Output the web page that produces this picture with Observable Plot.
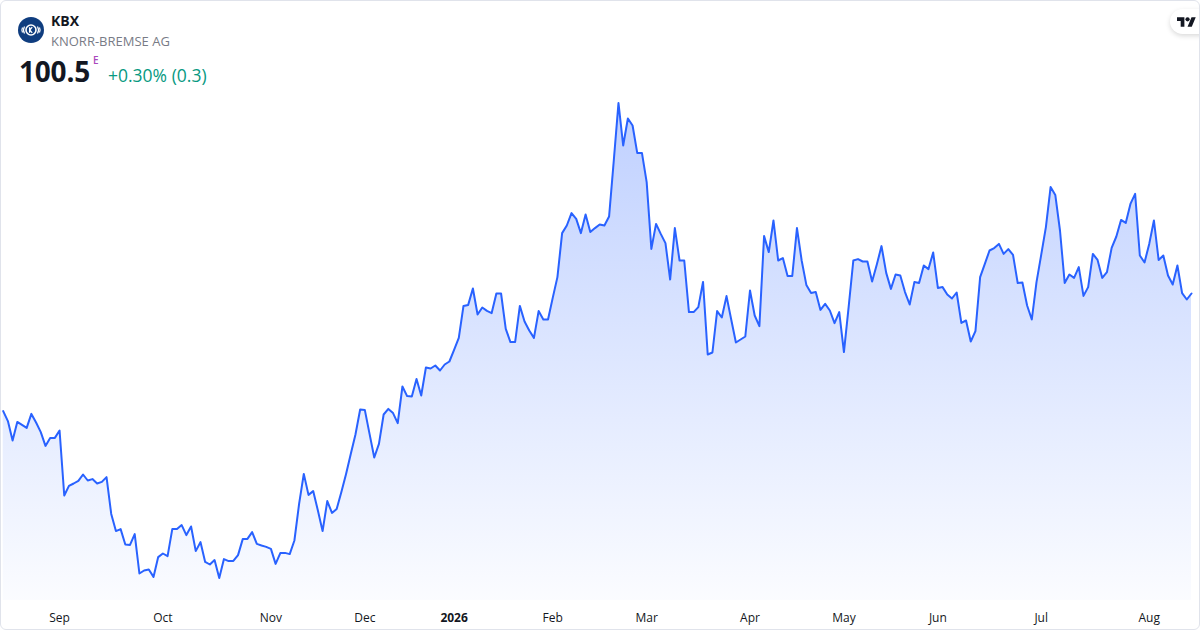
<!DOCTYPE html>
<html><head><meta charset="utf-8">
<script src="https://cdn.jsdelivr.net/npm/d3@7"></script>
<script src="https://cdn.jsdelivr.net/npm/@observablehq/plot@0.6"></script>
<style>
body{margin:0;background:#fff;font-family:"Open Sans",sans-serif;}
#wrap{position:relative;width:1200px;height:630px;overflow:hidden;background:#fff;}
#chart{position:absolute;left:0;top:0;}
#border{position:absolute;left:0;top:0;width:1200px;height:630px;border:1px solid #e0e3eb;border-radius:6px;box-sizing:border-box;pointer-events:none;}
.t{position:absolute;white-space:nowrap;line-height:1;}
#sym{left:51px;top:13.6px;font-size:14px;font-weight:700;color:#131722;}
#name{left:51px;top:34.5px;font-size:13px;color:#787b86;letter-spacing:0px;}
#price{left:19px;top:57px;font-size:28px;font-weight:700;color:#131722;letter-spacing:-0.2px;}
#e{left:93px;top:55px;font-size:10px;font-weight:600;color:#ab47bc;}
#chg{left:108px;top:66.5px;font-size:17.5px;color:#089981;}
#logo{position:absolute;left:18px;top:17px;}
#tv{position:absolute;left:1170px;top:9px;width:44px;height:25px;border-radius:13px;background:#fff;box-shadow:0 2px 5px rgba(0,0,0,0.15);}
#tv svg{position:absolute;left:7px;top:6px;}
</style></head>
<body>
<div id="wrap">
  <div id="chart"></div>
  <svg id="logo" width="26" height="26" viewBox="0 0 26 26">
    <circle cx="13" cy="13" r="13" fill="#0f3d7f"/>
    <circle cx="13" cy="13" r="5" fill="none" stroke="#fff" stroke-width="1.6"/>
    <path d="M11.6 10.2v5.6M11.8 13l2.4-2.8M11.8 13l2.4 2.8" stroke="#fff" stroke-width="1.3" fill="none"/>
    <path d="M6.5 9.5q-2 3.5 0 7M4.5 10.5q-1.2 2.5 0 5M19.5 9.5q2 3.5 0 7M21.5 10.5q1.2 2.5 0 5" stroke="#fff" stroke-width="1.2" fill="none"/>
  </svg>
  <div class="t" id="sym">KBX</div>
  <div class="t" id="name">KNORR-BREMSE AG</div>
  <div class="t" id="price">100.5</div>
  <div class="t" id="e">E</div>
  <div class="t" id="chg">+0.30% (0.3)</div>
  <div id="tv"><svg width="19" height="15" viewBox="0 0 36 28"><path d="M14 22H7V11H0V4h14v18zM28 22h-8l7.5-18h8L28 22z" fill="#131722"/><circle cx="20" cy="8" r="4" fill="#131722"/></svg></div>
  <div id="border"></div>
</div>
<script>
// Daily closes, one per trading day (mid-Aug 2025 .. mid-Aug 2026)
const prices = [
94.62,94.12,93.15,94.08,93.93,93.78,94.48,94.05,93.57,92.88,
93.27,93.28,93.65,90.40,90.88,91.00,91.13,91.45,91.15,91.22,
91.00,91.08,91.32,89.48,88.62,88.72,87.95,87.93,88.47,86.50,
86.65,86.70,86.33,87.32,87.50,87.37,88.72,88.72,88.92,88.42,
88.85,87.62,88.07,87.08,86.95,87.17,86.27,87.22,87.12,87.13,
87.42,88.22,88.23,88.57,87.98,87.90,87.83,87.73,86.98,87.52,
87.53,87.47,88.15,89.98,91.48,90.43,90.62,89.65,88.62,90.12,
89.53,89.73,90.57,91.48,92.48,93.45,94.70,94.67,93.48,92.30,
92.98,94.45,94.73,94.52,94.02,95.85,95.37,95.35,96.23,95.40,
96.80,96.75,96.90,96.65,96.95,97.10,97.68,98.28,99.88,99.93,
100.75,99.45,99.80,99.63,99.52,100.50,100.50,98.73,98.07,98.08,
99.88,99.10,98.65,98.28,99.62,99.20,99.20,100.28,101.32,103.52,
103.90,104.52,104.23,103.52,104.45,103.57,103.77,103.95,103.90,104.35,
107.15,110.02,107.90,109.25,108.90,107.52,107.52,106.07,102.73,103.98,
103.48,103.02,101.20,103.77,102.15,102.15,99.57,99.57,99.82,101.08,
97.45,97.55,99.62,99.30,100.37,99.20,98.05,98.20,98.35,100.65,
99.40,98.87,103.37,102.57,104.15,102.15,102.27,101.38,101.38,103.77,
102.15,100.93,100.53,100.57,99.68,99.98,99.65,99.02,99.57,97.57,
99.82,102.15,102.22,102.10,102.10,101.10,101.95,102.87,101.53,100.73,
101.45,101.40,100.57,99.95,101.07,101.02,101.90,101.72,102.55,100.78,
100.82,100.45,100.25,100.55,99.03,99.15,98.10,98.62,101.32,101.98,
102.65,102.77,102.98,102.48,102.72,102.43,101.02,101.05,99.90,99.20,
101.07,102.43,103.82,105.82,105.43,103.65,101.03,101.45,101.28,101.82,
100.38,100.82,102.48,102.18,101.28,101.57,102.78,103.35,104.18,104.03,
104.98,105.48,102.40,102.05,102.98,104.15,102.18,102.40,101.40,100.95,
101.90,100.52,100.20,100.50
];
const monthLabels = ["Sep","Oct","Nov","Dec","Feb","Mar","Apr","May","Jun","Jul","Aug"];
const monthIndex  = [12,34,57,77,117,137,159,179,199,221,244];
const yearLabels = ["2026"];
const yearIndex  = [96];
const yDomain = [85.15, 115.15];

const data = prices.map((v, i) => ({i, v}));
const ns = "http://www.w3.org/2000/svg";
const gradientDefs = () => {
  const defs = document.createElementNS(ns, "defs");
  defs.innerHTML = '<linearGradient id="areaGrad" x1="0" y1="0" x2="0" y2="1">' +
    '<stop offset="0" stop-color="#2962ff" stop-opacity="0.30"/>' +
    '<stop offset="1" stop-color="#2962ff" stop-opacity="0.02"/></linearGradient>';
  return defs;
};

const chart = Plot.plot({
  width: 1200,
  height: 630,
  marginTop: 0,
  marginBottom: 30,
  marginLeft: 2.7,
  marginRight: 9,
  style: {fontFamily: '"Open Sans", sans-serif', background: "transparent"},
  x: {domain: [0, prices.length - 1], axis: null, label: null},
  y: {domain: yDomain, axis: null, label: null},
  marks: [
    gradientDefs,
    Plot.areaY(data, {x: "i", y1: yDomain[0], y2: "v", fill: "url(#areaGrad)"}),
    Plot.lineY(data, {x: "i", y: "v", stroke: "#2962ff", strokeWidth: 2, strokeLinejoin: "round"}),
    Plot.axisX(monthIndex, {tickSize: 0, tickPadding: 13, fontSize: 12, fill: "#131722", label: null,
      tickFormat: d => monthLabels[monthIndex.indexOf(d)]}),
    Plot.axisX(yearIndex, {tickSize: 0, tickPadding: 13, fontSize: 12, fill: "#131722", fontWeight: "bold", label: null,
      tickFormat: d => yearLabels[yearIndex.indexOf(d)]})
  ]
});
document.getElementById("chart").appendChild(chart);
</script>
</body></html>
